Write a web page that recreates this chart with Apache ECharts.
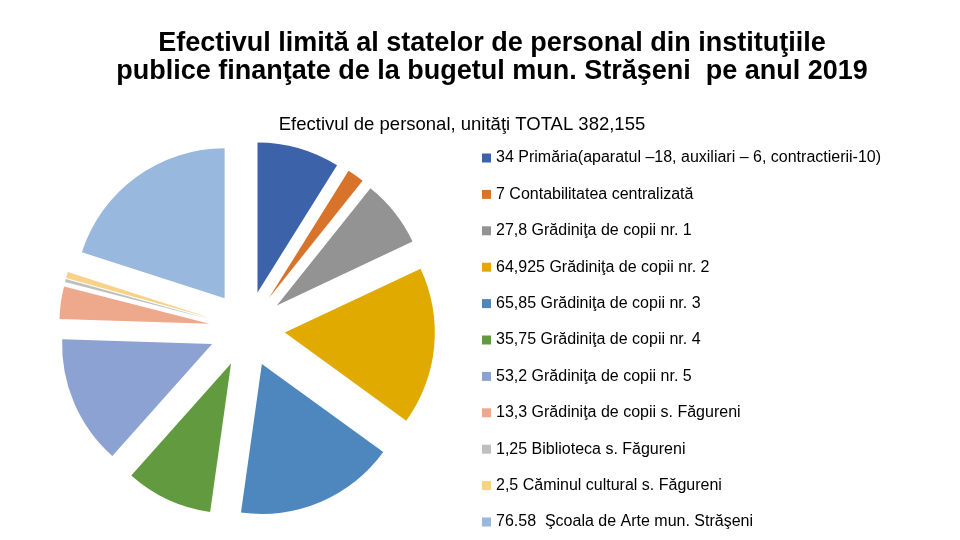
<!DOCTYPE html>
<html>
<head>
    <meta charset="utf-8">
    <title>Efectivul de personal</title>
    <script src="https://cdn.jsdelivr.net/npm/echarts@6/dist/echarts.min.js"></script>
    <style>
        html, body { margin: 0; padding: 0; background: #fff; }
    </style>
</head>
<body>
    <div id="main" style="width:960px;height:540px;"></div>
    <script type="text/javascript">
        // date
        var institutii = [
            '34 Primăria(aparatul –18, auxiliari – 6, contractierii-10)',
            '7 Contabilitatea centralizată',
            '27,8 Grădiniţa de copii nr. 1',
            '64,925 Grădiniţa de copii nr. 2',
            '65,85 Grădiniţa de copii nr. 3',
            '35,75 Grădiniţa de copii nr. 4',
            '53,2 Grădiniţa de copii nr. 5',
            '13,3 Grădiniţa de copii s. Făgureni',
            '1,25 Biblioteca s. Făgureni',
            '2,5 Căminul cultural s. Făgureni',
            '76.58  Şcoala de Arte mun. Străşeni'
        ];
        var unitati = [34, 7, 27.8, 64.925, 65.85, 35.75, 53.2, 13.3, 1.25, 2.5, 76.58];
        var culori = ['#3c62aa', '#d8732c', '#939393', '#e1aa00', '#4d87bd',
                      '#629b3f', '#8ca2d3', '#eea88c', '#bfbfbf', '#f9d287', '#98b8de'];

        var felii = [];
        institutii.forEach(function (nume, i) {
            felii.push({
                name: nume,
                value: unitati[i],
                selected: true,
                itemStyle: { color: culori[i] }
            });
        });

        var chart = echarts.init(document.getElementById('main'));
        var option = {
            animation: false,
            graphic: [
                {
                    type: 'text', x: 492, y: 30,
                    style: {
                        text: 'Efectivul limită al statelor de personal din instituţiile\npublice finanţate de la bugetul mun. Străşeni  pe anul 2019',
                        font: 'bold 27px "Liberation Sans", sans-serif',
                        lineHeight: 28, fill: '#000', align: 'center', verticalAlign: 'top'
                    }
                },
                {
                    type: 'text', x: 462, y: 115,
                    style: {
                        text: 'Efectivul de personal, unităţi TOTAL 382,155',
                        font: '18.5px "Liberation Sans", sans-serif',
                        fill: '#000', align: 'center', verticalAlign: 'top'
                    }
                }
            ],
            legend: {
                orient: 'vertical',
                left: 477,
                top: 144,
                icon: 'rect',
                itemWidth: 9,
                itemHeight: 9,
                itemGap: 18.4,
                selectedMode: false,
                data: institutii,
                textStyle: {
                    fontFamily: '"Liberation Sans", sans-serif',
                    fontSize: 16,
                    lineHeight: 18,
                    color: '#000'
                }
            },
            series: [{
                type: 'pie',
                center: [247, 329],
                radius: 150,
                startAngle: 90,
                selectedMode: 'multiple',
                selectedOffset: 38,
                label: { show: false },
                labelLine: { show: false },
                emphasis: { disabled: true },
                data: felii
            }]
        };
        chart.setOption(option);
    </script>
</body>
</html>
